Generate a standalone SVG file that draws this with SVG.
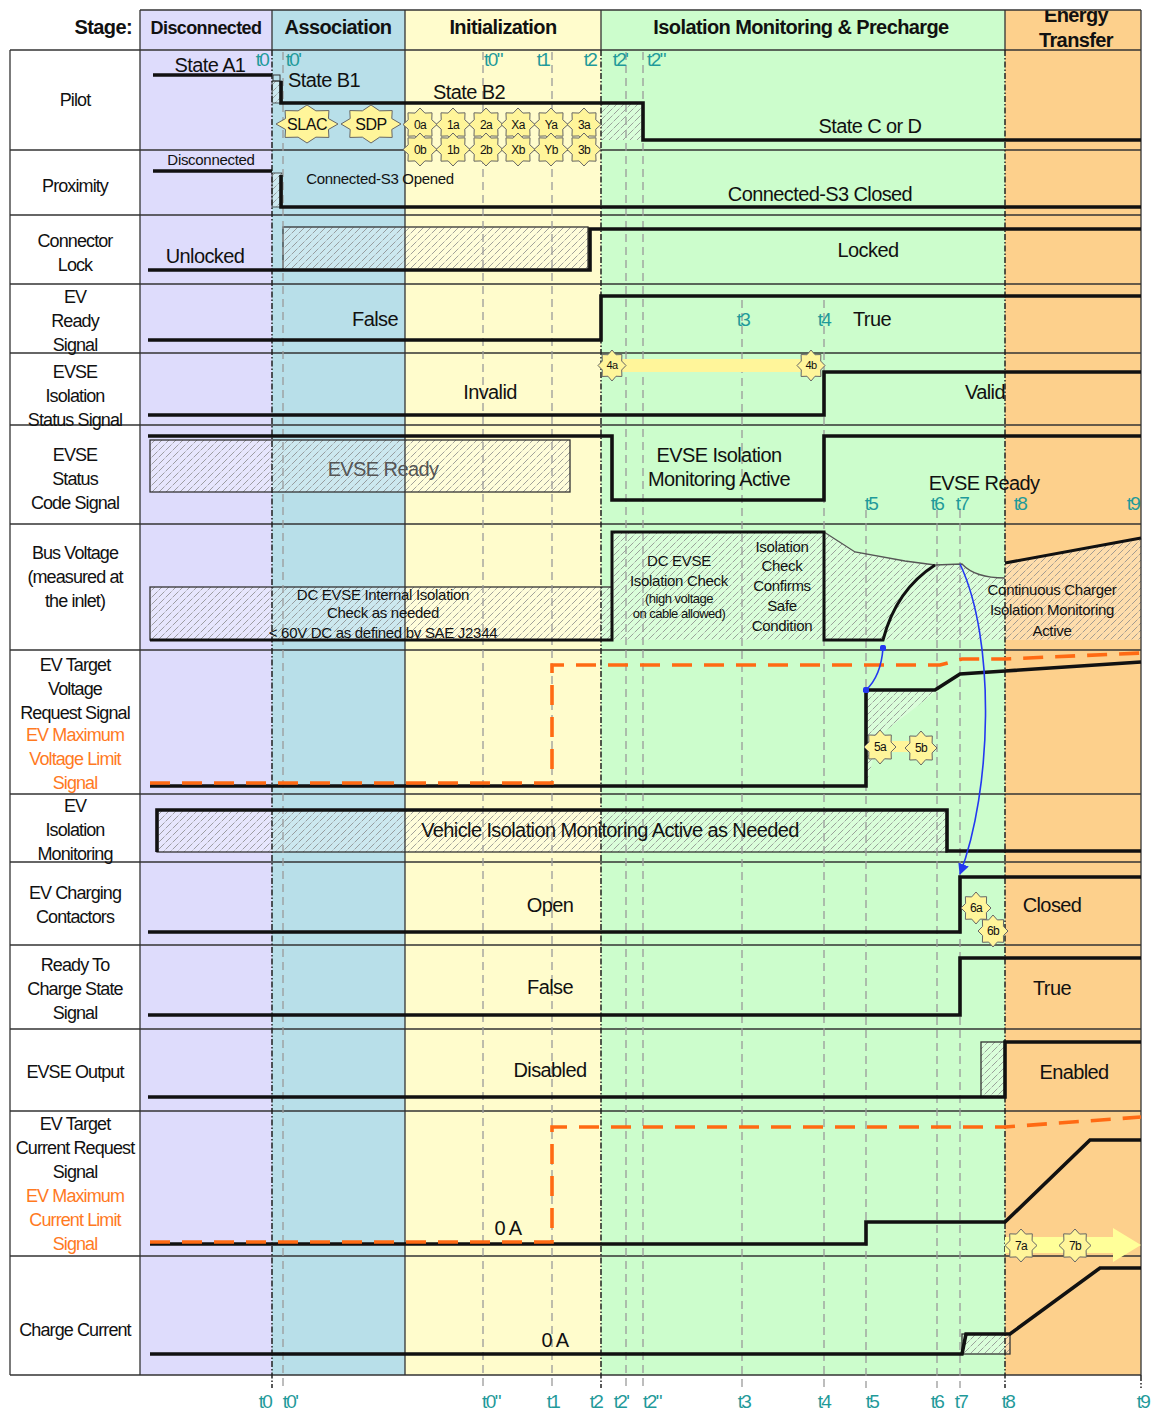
<svg xmlns="http://www.w3.org/2000/svg" width="1155" height="1412" viewBox="0 0 1155 1412">
<style>
  text { font-family: "Liberation Sans", Arial, sans-serif; fill: #111; }
  .lbl { font-size: 18px; letter-spacing: -0.9px; text-anchor: middle; }
  .org { fill: #ff7a1f; }
  .sig { font-size: 20px; letter-spacing: -0.6px; text-anchor: middle; }
  .sm { font-size: 15px; letter-spacing: -0.3px; text-anchor: middle; }
  .xs { font-size: 13px; letter-spacing: -0.5px; text-anchor: middle; }
  .hd { font-size: 20px; font-weight: bold; letter-spacing: -0.6px; text-anchor: middle; }
  .t { fill: #1f9a9a; font-size: 19px; letter-spacing: -1.6px; text-anchor: middle; }
  .st { font-size: 12px; letter-spacing: -0.6px; text-anchor: middle; }
  .stb { font-size: 16px; letter-spacing: -0.4px; text-anchor: middle; }
  .grey { fill: #555; }
  .rowline { stroke: #333; stroke-width: 1.3; }
  .tdash { stroke: #9a9a9a; stroke-width: 1.3; stroke-dasharray: 8 5; }
  .bdash { stroke: #222; stroke-width: 1.5; stroke-dasharray: 6 2 1.5 2; }
  .wave { fill: none; stroke: #111; stroke-width: 3.6; stroke-linejoin: miter; }
  .limit { fill: none; stroke: #ff6a13; stroke-width: 3.6; stroke-dasharray: 20 12; }
  .hbox { fill: url(#hatch); stroke: #333; stroke-width: 1.3; }
  .hfill { fill: url(#hatch); stroke: none; }
  .blue { fill: none; stroke: #2438f0; stroke-width: 1.6; }
</style>
<defs>
  <pattern id="hatch" patternUnits="userSpaceOnUse" width="7" height="7">
    <rect width="7" height="7" fill="#ffffff" fill-opacity="0.28"/>
    <path d="M-1,1 L1,-1 M0,7 L7,0 M6,8 L8,6" stroke="#8a8a8a" stroke-width="0.8" stroke-dasharray="5 1.5"/>
  </pattern>
  <symbol id="star" viewBox="-1 -1 2 2" preserveAspectRatio="none" overflow="visible">
    <polygon points="1,0 0.693,0.287 0.707,0.707 0.287,0.693 0,1 -0.287,0.693 -0.707,0.707 -0.693,0.287 -1,0 -0.693,-0.287 -0.707,-0.707 -0.287,-0.693 0,-1 0.287,-0.693 0.707,-0.707 0.693,-0.287" fill="#fff59a" stroke="#666" stroke-width="1" vector-effect="non-scaling-stroke"/>
  </symbol>
  <marker id="arrowhead" viewBox="0 0 10 10" refX="9" refY="5" markerWidth="7" markerHeight="7" orient="auto">
    <path d="M0,0 L10,5 L0,10 z" fill="#2438f0"/>
  </marker>
  <marker id="dot" viewBox="0 0 10 10" refX="5" refY="5" markerWidth="4" markerHeight="4">
    <circle cx="5" cy="5" r="5" fill="#2438f0"/>
  </marker>
  <clipPath id="etclip"><rect x="1005" y="10" width="136" height="40"/></clipPath>
</defs>

<rect width="1155" height="1412" fill="#ffffff"/>

<!-- stage columns -->
<g id="stages">
  <rect x="140" y="10" width="132" height="1365" fill="#dedcfc"/>
  <rect x="272" y="10" width="133" height="1365" fill="#b8dfe9"/>
  <rect x="405" y="10" width="196" height="1365" fill="#fffccc"/>
  <rect x="601" y="10" width="404" height="1365" fill="#ccfdcc"/>
  <rect x="1005" y="10" width="136" height="1365" fill="#fdd08c"/>
  <text x="132" y="34" class="hd" style="text-anchor:end">Stage:</text>
  <text x="206" y="34" class="hd" style="font-size:18px">Disconnected</text>
  <text x="338" y="34" class="hd">Association</text>
  <text x="503" y="34" class="hd">Initialization</text>
  <text x="801" y="34" class="hd">Isolation Monitoring &amp; Precharge</text>
  <g clip-path="url(#etclip)">
    <text x="1076" y="22" class="hd">Energy</text>
  </g>
  <text x="1076" y="47" class="hd">Transfer</text>
</g>

<!-- hatched areas -->
<g id="hatched">
  <rect x="272" y="81" width="10" height="22" class="hbox" style="stroke-width:0.8"/>
  <rect x="601" y="103" width="42" height="37" class="hfill"/>
  <rect x="272" y="173" width="10" height="34" class="hbox" style="stroke-width:0.8"/>
  <rect x="283" y="227" width="305" height="43" class="hbox"/>
  <rect x="150" y="440" width="420" height="52" class="hbox"/>
  <rect x="150" y="587" width="462" height="53" class="hbox"/>
  <rect x="612" y="532" width="212" height="108" class="hfill"/>
  <path d="M824,532 L855,552 L905,561 L935,565 L962,564 Q975,578 1005,578 V640 H824 Z" class="hfill"/>
  <path d="M1005,563 L1141,538 V640 H1005 Z" class="hfill"/>
  <path d="M866,690 H938 L880,735 L866,785 Z" class="hfill"/>
  <rect x="157" y="810" width="790" height="42" class="hbox"/>
  <rect x="981" y="1042" width="24" height="55" class="hbox"/>
  <rect x="962" y="1334" width="48" height="20" class="hbox"/>
</g>

<!-- grid -->
<g id="grid">
  <line x1="140" y1="10" x2="1141" y2="10" class="rowline"/>
  <line x1="10" y1="50" x2="1141" y2="50" class="rowline"/>
  <line x1="10" y1="150" x2="1141" y2="150" class="rowline"/>
  <line x1="10" y1="215" x2="1141" y2="215" class="rowline"/>
  <line x1="10" y1="284" x2="1141" y2="284" class="rowline"/>
  <line x1="10" y1="353" x2="1141" y2="353" class="rowline"/>
  <line x1="10" y1="425" x2="1141" y2="425" class="rowline"/>
  <line x1="10" y1="524" x2="1141" y2="524" class="rowline"/>
  <line x1="10" y1="650" x2="1141" y2="650" class="rowline"/>
  <line x1="10" y1="794" x2="1141" y2="794" class="rowline"/>
  <line x1="10" y1="862" x2="1141" y2="862" class="rowline"/>
  <line x1="10" y1="945" x2="1141" y2="945" class="rowline"/>
  <line x1="10" y1="1029" x2="1141" y2="1029" class="rowline"/>
  <line x1="10" y1="1111" x2="1141" y2="1111" class="rowline"/>
  <line x1="10" y1="1256" x2="1141" y2="1256" class="rowline"/>
  <line x1="10" y1="1375" x2="1141" y2="1375" class="rowline"/>
  <line x1="10" y1="50" x2="10" y2="1375" class="rowline"/>
  <line x1="140" y1="10" x2="140" y2="1375" class="rowline"/>
  <line x1="272" y1="10" x2="272" y2="50" class="rowline"/>
  <line x1="405" y1="10" x2="405" y2="1375" class="rowline"/>
  <line x1="601" y1="10" x2="601" y2="50" class="rowline"/>
  <line x1="1005" y1="10" x2="1005" y2="50" class="rowline"/>
  <line x1="1141" y1="10" x2="1141" y2="1375" class="rowline"/>
  <!-- time markers -->
  <line x1="283" y1="52" x2="283" y2="1388" class="tdash"/>
  <line x1="483" y1="52" x2="483" y2="1388" class="tdash"/>
  <line x1="552" y1="52" x2="552" y2="1388" class="tdash"/>
  <line x1="626" y1="52" x2="626" y2="1388" class="tdash"/>
  <line x1="643" y1="52" x2="643" y2="1388" class="tdash"/>
  <line x1="742" y1="300" x2="742" y2="1388" class="tdash"/>
  <line x1="824" y1="300" x2="824" y2="1388" class="tdash"/>
  <line x1="866" y1="510" x2="866" y2="1388" class="tdash"/>
  <line x1="937" y1="510" x2="937" y2="1388" class="tdash"/>
  <line x1="960" y1="510" x2="960" y2="1388" class="tdash"/>
  <line x1="272" y1="50" x2="272" y2="1388" class="bdash"/>
  <line x1="601" y1="50" x2="601" y2="1388" class="bdash"/>
  <line x1="1005" y1="50" x2="1005" y2="1388" class="bdash"/>
  <line x1="1141" y1="1375" x2="1141" y2="1388" class="bdash"/>
</g>

<!-- row labels -->
<g id="labels">
  <text x="75" y="106" class="lbl">Pilot</text>
  <text x="75" y="192" class="lbl">Proximity</text>
  <text x="75" y="247" class="lbl">Connector</text>
  <text x="75" y="271" class="lbl">Lock</text>
  <text x="75" y="303" class="lbl">EV</text>
  <text x="75" y="327" class="lbl">Ready</text>
  <text x="75" y="351" class="lbl">Signal</text>
  <text x="75" y="378" class="lbl">EVSE</text>
  <text x="75" y="402" class="lbl">Isolation</text>
  <text x="75" y="426" class="lbl">Status Signal</text>
  <text x="75" y="461" class="lbl">EVSE</text>
  <text x="75" y="485" class="lbl">Status</text>
  <text x="75" y="509" class="lbl">Code Signal</text>
  <text x="75" y="559" class="lbl">Bus Voltage</text>
  <text x="75" y="583" class="lbl">(measured at</text>
  <text x="75" y="607" class="lbl">the inlet)</text>
  <text x="75" y="671" class="lbl">EV Target</text>
  <text x="75" y="695" class="lbl">Voltage</text>
  <text x="75" y="719" class="lbl">Request Signal</text>
  <text x="75" y="741" class="lbl org">EV Maximum</text>
  <text x="75" y="765" class="lbl org">Voltage Limit</text>
  <text x="75" y="789" class="lbl org">Signal</text>
  <text x="75" y="812" class="lbl">EV</text>
  <text x="75" y="836" class="lbl">Isolation</text>
  <text x="75" y="860" class="lbl">Monitoring</text>
  <text x="75" y="899" class="lbl">EV Charging</text>
  <text x="75" y="923" class="lbl">Contactors</text>
  <text x="75" y="971" class="lbl">Ready To</text>
  <text x="75" y="995" class="lbl">Charge State</text>
  <text x="75" y="1019" class="lbl">Signal</text>
  <text x="75" y="1078" class="lbl">EVSE Output</text>
  <text x="75" y="1130" class="lbl">EV Target</text>
  <text x="75" y="1154" class="lbl">Current Request</text>
  <text x="75" y="1178" class="lbl">Signal</text>
  <text x="75" y="1202" class="lbl org">EV Maximum</text>
  <text x="75" y="1226" class="lbl org">Current Limit</text>
  <text x="75" y="1250" class="lbl org">Signal</text>
  <text x="75" y="1336" class="lbl">Charge Current</text>
</g>

<!-- Pilot -->
<g id="pilot">
  <rect x="273" y="75" width="7" height="6" fill="none" stroke="#333" stroke-width="1"/>
  <path d="M153,75 H272" class="wave"/>
  <path d="M281,81 V103 H643 V140 H1141" class="wave"/>
  <text x="210" y="72" class="sig">State A1</text>
  <text x="288" y="87" class="sig" style="text-anchor:start">State B1</text>
  <text x="469" y="99" class="sig">State B2</text>
  <text x="870" y="133" class="sig">State C or D</text>
  <use href="#star" x="276" y="105" width="62" height="38"/>
  <text x="307" y="130" class="stb">SLAC</text>
  <use href="#star" x="341" y="105" width="60" height="38"/>
  <text x="371" y="130" class="stb">SDP</text>
  <use href="#star" x="403" y="108" width="34" height="33"/>
  <text x="420" y="129" class="st">0a</text>
  <use href="#star" x="436" y="108" width="34" height="33"/>
  <text x="453" y="129" class="st">1a</text>
  <use href="#star" x="469" y="108" width="34" height="33"/>
  <text x="486" y="129" class="st">2a</text>
  <use href="#star" x="501" y="108" width="34" height="33"/>
  <text x="518" y="129" class="st">Xa</text>
  <use href="#star" x="534" y="108" width="34" height="33"/>
  <text x="551" y="129" class="st">Ya</text>
  <use href="#star" x="567" y="108" width="34" height="33"/>
  <text x="584" y="129" class="st">3a</text>
  <use href="#star" x="403" y="133" width="34" height="33"/>
  <text x="420" y="154" class="st">0b</text>
  <use href="#star" x="436" y="133" width="34" height="33"/>
  <text x="453" y="154" class="st">1b</text>
  <use href="#star" x="469" y="133" width="34" height="33"/>
  <text x="486" y="154" class="st">2b</text>
  <use href="#star" x="501" y="133" width="34" height="33"/>
  <text x="518" y="154" class="st">Xb</text>
  <use href="#star" x="534" y="133" width="34" height="33"/>
  <text x="551" y="154" class="st">Yb</text>
  <use href="#star" x="567" y="133" width="34" height="33"/>
  <text x="584" y="154" class="st">3b</text>
  <text x="262" y="66" class="t">t0</text>
  <text x="293" y="66" class="t">t0'</text>
  <text x="493" y="66" class="t">t0"</text>
  <text x="543" y="66" class="t">t1</text>
  <text x="590" y="66" class="t">t2</text>
  <text x="620" y="66" class="t">t2'</text>
  <text x="656" y="66" class="t">t2"</text>
</g>

<!-- Proximity -->
<g id="proximity">
  <path d="M153,171 H272" class="wave"/>
  <path d="M281,175 V207 H1141" class="wave"/>
  <text x="211" y="165" class="sm">Disconnected</text>
  <text x="380" y="184" class="sm">Connected-S3 Opened</text>
  <text x="820" y="201" class="sig">Connected-S3 Closed</text>
</g>

<!-- Connector Lock -->
<g id="connector-lock">
  <path d="M148,270 H590 V229 H1141" class="wave"/>
  <text x="205" y="263" class="sig">Unlocked</text>
  <text x="868" y="257" class="sig">Locked</text>
</g>

<!-- EV Ready Signal -->
<g id="ev-ready">
  <path d="M148,340 H601 V296 H1141" class="wave"/>
  <text x="375" y="326" class="sig">False</text>
  <text x="743" y="326" class="t">t3</text>
  <text x="824" y="326" class="t">t4</text>
  <text x="872" y="326" class="sig">True</text>
</g>

<!-- EVSE Isolation Status Signal -->
<g id="evse-isolation-status">
  <rect x="612" y="359" width="199" height="13" fill="#fff59a"/>
  <path d="M148,415 H824 V372 H1141" class="wave"/>
  <text x="490" y="399" class="sig">Invalid</text>
  <text x="985" y="399" class="sig">Valid</text>
  <use href="#star" x="598" y="350" width="28" height="31"/>
  <text x="612" y="369" class="st" style="font-size:11px">4a</text>
  <use href="#star" x="797" y="350" width="28" height="31"/>
  <text x="811" y="369" class="st" style="font-size:11px">4b</text>
</g>

<!-- EVSE Status Code Signal -->
<g id="evse-status-code">
  <path d="M148,436 H612 V500 H824 V436 H1141" class="wave"/>
  <text x="383" y="476" class="sig grey">EVSE Ready</text>
  <text x="719" y="462" class="sig">EVSE Isolation</text>
  <text x="719" y="486" class="sig">Monitoring Active</text>
  <text x="984" y="490" class="sig">EVSE Ready</text>
  <text x="871" y="510" class="t">t5</text>
  <text x="937" y="510" class="t">t6</text>
  <text x="962" y="510" class="t">t7</text>
  <text x="1020" y="510" class="t">t8</text>
  <text x="1133" y="510" class="t">t9</text>
</g>

<!-- Bus Voltage -->
<g id="bus-voltage">
  <path d="M824,532 L855,552 L905,561 L935,565 L962,564 Q975,578 1005,578" fill="none" stroke="#555" stroke-width="1.3"/>
  <path d="M150,640 H612 V532 H824 V640 H883 Q896,590 935,565" class="wave" style="stroke-width:3"/>
  <path d="M1005,563 L1141,538" class="wave" style="stroke-width:3"/>
  <text x="383" y="600" class="sm">DC EVSE Internal Isolation</text>
  <text x="383" y="618" class="sm">Check as needed</text>
  <text x="383" y="638" class="sm">&lt; 60V DC as defined by SAE J2344</text>
  <text x="679" y="566" class="sm">DC EVSE</text>
  <text x="679" y="586" class="sm">Isolation Check</text>
  <text x="679" y="603" class="xs">(high voltage</text>
  <text x="679" y="618" class="xs">on cable allowed)</text>
  <text x="782" y="552" class="sm">Isolation</text>
  <text x="782" y="571" class="sm">Check</text>
  <text x="782" y="591" class="sm">Confirms</text>
  <text x="782" y="611" class="sm">Safe</text>
  <text x="782" y="631" class="sm">Condition</text>
  <text x="1052" y="595" class="sm">Continuous Charger</text>
  <text x="1052" y="615" class="sm">Isolation Monitoring</text>
  <text x="1052" y="636" class="sm">Active</text>
</g>

<!-- EV Target Voltage Request / EV Maximum Voltage Limit -->
<g id="ev-target-voltage">
  <path d="M150,786 H866 V690 H935 L960,674 L1005,671 L1141,662" class="wave"/>
  <path d="M150,783 H552 V665 H940 L962,659 H1005 L1141,653" class="limit"/>
  <rect x="880" y="741" width="41" height="11" fill="#fff59a"/>
  <use href="#star" x="864" y="730" width="32" height="34"/>
  <text x="880" y="751" class="st">5a</text>
  <use href="#star" x="905" y="731" width="32" height="34"/>
  <text x="921" y="752" class="st">5b</text>
</g>

<!-- EV Isolation Monitoring -->
<g id="ev-isolation-monitoring">
  <path d="M157,852 V810 H947 V851 H1141" class="wave"/>
  <text x="610" y="837" class="sig">Vehicle Isolation Monitoring Active as Needed</text>
</g>

<!-- EV Charging Contactors -->
<g id="ev-contactors">
  <path d="M148,932 H960 V877 H1141" class="wave"/>
  <text x="550" y="912" class="sig">Open</text>
  <text x="1052" y="912" class="sig">Closed</text>
  <use href="#star" x="961" y="892" width="30" height="32"/>
  <text x="976" y="912" class="st">6a</text>
  <use href="#star" x="978" y="915" width="30" height="32"/>
  <text x="993" y="935" class="st">6b</text>
</g>

<!-- Ready To Charge State Signal -->
<g id="ready-to-charge">
  <path d="M148,1015 H960 V958 H1141" class="wave"/>
  <text x="550" y="994" class="sig">False</text>
  <text x="1052" y="995" class="sig">True</text>
</g>

<!-- EVSE Output -->
<g id="evse-output">
  <path d="M148,1097 H1005 V1042 H1141" class="wave"/>
  <text x="550" y="1077" class="sig">Disabled</text>
  <text x="1074" y="1079" class="sig">Enabled</text>
</g>

<!-- EV Target Current Request / EV Maximum Current Limit -->
<g id="ev-target-current">
  <path d="M150,1244 H866 V1222 H1005 L1090,1140 H1141" class="wave"/>
  <path d="M150,1242 H552 V1127 H1005 L1141,1117" class="limit"/>
  <polygon points="1005,1237 1113,1237 1113,1228 1141,1245 1113,1262 1113,1253 1005,1253" fill="#ffff99"/>
  <text x="508" y="1235" class="sig">0 A</text>
  <use href="#star" x="1005" y="1229" width="32" height="33"/>
  <text x="1021" y="1250" class="st">7a</text>
  <use href="#star" x="1059" y="1229" width="32" height="33"/>
  <text x="1075" y="1250" class="st">7b</text>
</g>

<!-- Charge Current -->
<g id="charge-current">
  <path d="M150,1354 H962 L966,1334 H1010 L1100,1268 H1141" class="wave"/>
  <text x="555" y="1347" class="sig">0 A</text>
</g>

<!-- time axis -->
<g id="axis">
  <text x="265" y="1408" class="t">t0</text>
  <text x="290" y="1408" class="t">t0'</text>
  <text x="491" y="1408" class="t">t0"</text>
  <text x="553" y="1408" class="t">t1</text>
  <text x="596" y="1408" class="t">t2</text>
  <text x="621" y="1408" class="t">t2'</text>
  <text x="652" y="1408" class="t">t2"</text>
  <text x="744" y="1408" class="t">t3</text>
  <text x="824" y="1408" class="t">t4</text>
  <text x="872" y="1408" class="t">t5</text>
  <text x="937" y="1408" class="t">t6</text>
  <text x="961" y="1408" class="t">t7</text>
  <text x="1008" y="1408" class="t">t8</text>
  <text x="1143" y="1408" class="t">t9</text>
</g>

<!-- dependency connectors -->
<g id="connectors">
  <path d="M866,690 Q881,676 883,648" class="blue" marker-start="url(#dot)" marker-end="url(#dot)"/>
  <path d="M960,564 C996,640 992,790 960,874" class="blue" marker-end="url(#arrowhead)"/>
</g>
</svg>
